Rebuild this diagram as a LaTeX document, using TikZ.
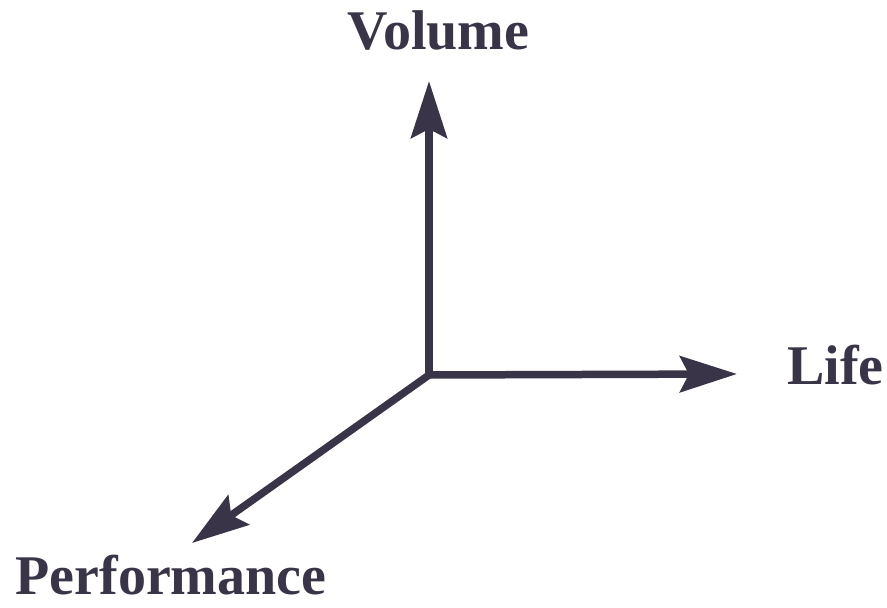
\documentclass[tikz,border=0pt]{standalone}
\usepackage{fontspec}
\setmainfont{Liberation Serif}
\usepackage{xcolor}
\definecolor{ink}{RGB}{58, 52, 72}
\usetikzlibrary{arrows.meta}

\tikzset{
  axis/.style={line width=7.5pt, color=ink, -{Stealth[length=57pt, width=36pt, inset=9pt]}},
  axislabel/.style={anchor=base, text=ink, font=\fontsize{56}{60}\selectfont\bfseries, inner sep=0pt}
}

\begin{document}
\begin{tikzpicture}[x=1pt, y=1pt]
  \useasboundingbox (0,0) rectangle (887,608);
  % 原点与箭头端点
  \coordinate (o) at (429,233);
  \coordinate (vtip) at (429,527);
  \coordinate (ltip) at (737,234);
  \coordinate (ptip) at (192,65);
  % 三个坐标轴
  \draw[axis] (o) -- (vtip);
  \draw[axis] (o) -- (ltip);
  \draw[axis] (o) -- (ptip);
  % 标签
  \node[axislabel] (volume) at (438.5,558) {Volume};
  \node[axislabel] (life) at (835.5,223) {Life};
  \node[axislabel] (perf) at (171,13) {Performance};
\end{tikzpicture}
\end{document}
